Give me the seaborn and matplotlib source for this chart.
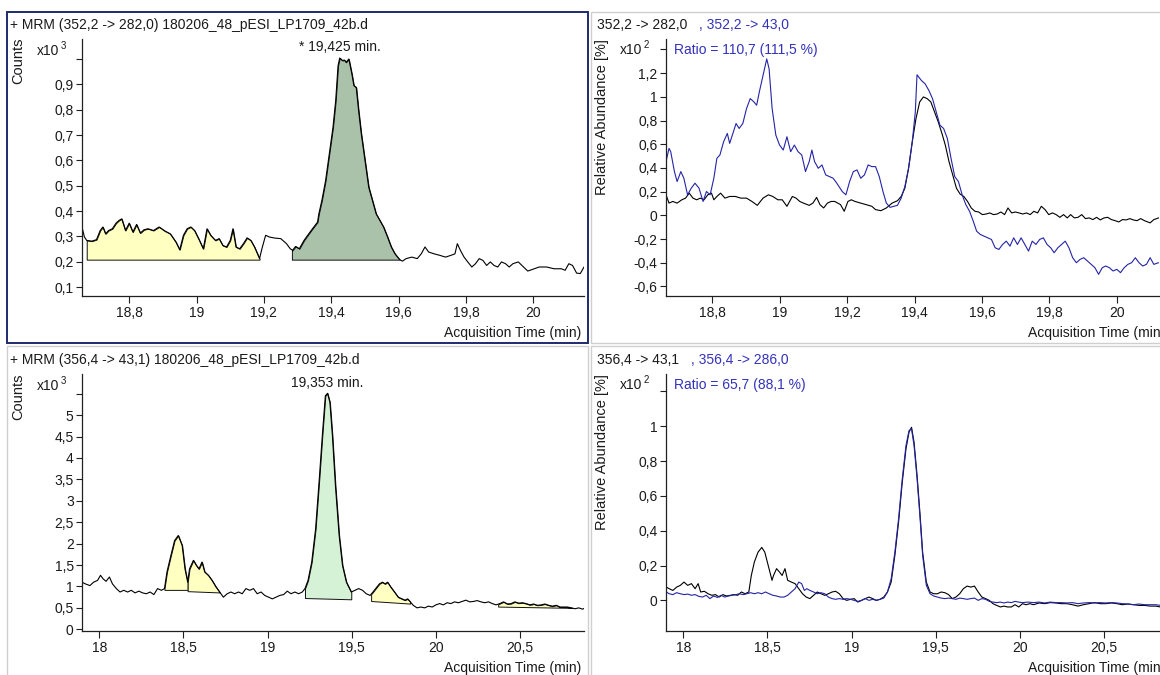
import numpy as np
import matplotlib
matplotlib.use("Agg")
import matplotlib.pyplot as plt
from matplotlib.patches import Rectangle
import seaborn as sns

# ---------------------------------------------------------------- data
# MRM 352,2 -> 282,0 (counts x10^3)
p1_time = [
    18.660, 18.667, 18.674, 18.689, 18.703, 18.714, 18.722, 18.730, 18.739, 18.750,
    18.761, 18.770, 18.778, 18.789, 18.800, 18.811, 18.822, 18.833, 18.844, 18.856,
    18.872, 18.889, 18.906, 18.922, 18.939, 18.950, 18.961, 18.972, 18.983, 18.994,
    19.006, 19.020, 19.031, 19.042, 19.056, 19.067, 19.078, 19.089, 19.100, 19.108,
    19.117, 19.128, 19.139, 19.150, 19.161, 19.172, 19.187, 19.194, 19.205, 19.217,
    19.233, 19.250, 19.267, 19.278, 19.285, 19.294, 19.305, 19.319, 19.333, 19.348,
    19.359, 19.363, 19.372, 19.383, 19.394, 19.405, 19.413, 19.420, 19.425, 19.433,
    19.439, 19.444, 19.452, 19.461, 19.467, 19.474, 19.481, 19.489, 19.500, 19.511,
    19.522, 19.533, 19.544, 19.555, 19.567, 19.578, 19.589, 19.603, 19.611, 19.622,
    19.639, 19.655, 19.667, 19.678, 19.689, 19.705, 19.722, 19.739, 19.755, 19.767,
    19.774, 19.783, 19.794, 19.805, 19.817, 19.828, 19.839, 19.850, 19.861, 19.872,
    19.883, 19.894, 19.905, 19.917, 19.928, 19.939, 19.955, 19.966, 19.983, 19.994,
    20.017, 20.039, 20.061, 20.083, 20.094, 20.105, 20.116, 20.128, 20.139, 20.150,
]
p1_counts = [
    0.337, 0.298, 0.284, 0.281, 0.287, 0.323, 0.337, 0.310, 0.323, 0.330,
    0.352, 0.363, 0.369, 0.323, 0.352, 0.317, 0.347, 0.313, 0.326, 0.330,
    0.323, 0.337, 0.321, 0.310, 0.277, 0.247, 0.304, 0.330, 0.337, 0.323,
    0.291, 0.251, 0.330, 0.304, 0.284, 0.291, 0.264, 0.258, 0.284, 0.330,
    0.258, 0.251, 0.271, 0.294, 0.284, 0.258, 0.212, 0.251, 0.304, 0.297,
    0.293, 0.291, 0.271, 0.251, 0.245, 0.260, 0.251, 0.284, 0.310, 0.337,
    0.356, 0.389, 0.442, 0.520, 0.626, 0.731, 0.836, 0.974, 1.004, 0.994,
    0.996, 0.987, 1.000, 0.941, 0.895, 0.888, 0.796, 0.704, 0.599, 0.494,
    0.442, 0.389, 0.363, 0.337, 0.297, 0.258, 0.231, 0.208, 0.202, 0.212,
    0.218, 0.212, 0.231, 0.258, 0.238, 0.231, 0.225, 0.218, 0.225, 0.231,
    0.271, 0.245, 0.218, 0.199, 0.179, 0.192, 0.212, 0.205, 0.185, 0.199,
    0.185, 0.179, 0.199, 0.192, 0.179, 0.192, 0.199, 0.185, 0.163, 0.168,
    0.179, 0.179, 0.172, 0.172, 0.166, 0.192, 0.185, 0.155, 0.153, 0.179,
]
# integrated regions: start, end, baseline level at start / end
p1_peak_start = [18.674, 19.283]
p1_peak_end = [19.187, 19.603]
p1_base_start = [0.208, 0.208]
p1_base_end = [0.208, 0.208]

# qualifier overlay 352,2 -> 282,0 / 352,2 -> 43,0 (relative abundance x10^2 %)
p2_quant_time = [
    18.662, 18.671, 18.682, 18.695, 18.709, 18.720, 18.731, 18.742, 18.753, 18.764,
    18.775, 18.786, 18.797, 18.804, 18.813, 18.824, 18.837, 18.851, 18.868, 18.884,
    18.901, 18.917, 18.933, 18.950, 18.966, 18.979, 18.994, 19.007, 19.021, 19.037,
    19.048, 19.059, 19.070, 19.087, 19.098, 19.109, 19.119, 19.130, 19.141, 19.152,
    19.163, 19.180, 19.191, 19.202, 19.212, 19.223, 19.240, 19.256, 19.273, 19.284,
    19.300, 19.316, 19.333, 19.349, 19.360, 19.371, 19.382, 19.393, 19.404, 19.415,
    19.426, 19.437, 19.448, 19.459, 19.470, 19.481, 19.491, 19.502, 19.513, 19.524,
    19.535, 19.546, 19.557, 19.568, 19.579, 19.590, 19.601, 19.612, 19.623, 19.634,
    19.645, 19.656, 19.667, 19.677, 19.688, 19.699, 19.710, 19.721, 19.732, 19.743,
    19.754, 19.765, 19.776, 19.787, 19.798, 19.809, 19.820, 19.831, 19.842, 19.853,
    19.863, 19.874, 19.885, 19.896, 19.907, 19.918, 19.929, 19.940, 19.951, 19.962,
    19.973, 19.984, 19.995, 20.006, 20.017, 20.028, 20.039, 20.049, 20.060, 20.071,
    20.082, 20.099, 20.110, 20.124,
]
p2_quant = [
    0.173, 0.103, 0.117, 0.103, 0.131, 0.145, 0.187, 0.145, 0.131, 0.145,
    0.131, 0.173, 0.187, 0.131, 0.159, 0.187, 0.145, 0.159, 0.159, 0.145,
    0.145, 0.117, 0.084, 0.145, 0.173, 0.159, 0.131, 0.131, 0.076, 0.159,
    0.145, 0.117, 0.103, 0.084, 0.103, 0.151, 0.090, 0.062, 0.103, 0.117,
    0.117, 0.090, 0.034, 0.117, 0.131, 0.117, 0.103, 0.090, 0.076, 0.048,
    0.039, 0.062, 0.103, 0.123, 0.159, 0.229, 0.397, 0.621, 0.817, 0.957,
    0.999, 0.985, 0.957, 0.873, 0.789, 0.691, 0.593, 0.453, 0.341, 0.229,
    0.179, 0.159, 0.117, 0.062, 0.034, 0.028, 0.006, 0.011, 0.020, 0.006,
    0.011, 0.028, 0.006, 0.062, 0.020, 0.028, 0.020, 0.011, 0.020, 0.006,
    0.034, 0.020, 0.076, 0.048, 0.006, 0.020, 0.006, -0.017, 0.006, -0.022,
    0.006, -0.022, -0.017, 0.006, -0.028, -0.022, -0.036, -0.017, -0.039, -0.022,
    -0.017, -0.036, -0.045, -0.056, -0.036, -0.039, -0.028, -0.039, -0.045, -0.028,
    -0.045, -0.064, -0.036, -0.022,
]
p2_qual_time = [
    18.662, 18.671, 18.676, 18.687, 18.695, 18.706, 18.715, 18.726, 18.737, 18.748,
    18.760, 18.772, 18.782, 18.793, 18.804, 18.813, 18.822, 18.833, 18.844, 18.851,
    18.859, 18.870, 18.879, 18.890, 18.901, 18.912, 18.923, 18.931, 18.939, 18.950,
    18.961, 18.968, 18.977, 18.988, 18.999, 19.010, 19.021, 19.032, 19.043, 19.054,
    19.065, 19.076, 19.087, 19.095, 19.103, 19.114, 19.125, 19.136, 19.147, 19.158,
    19.169, 19.185, 19.196, 19.207, 19.218, 19.229, 19.240, 19.251, 19.262, 19.273,
    19.284, 19.295, 19.306, 19.316, 19.327, 19.338, 19.349, 19.360, 19.371, 19.382,
    19.393, 19.402, 19.407, 19.420, 19.431, 19.442, 19.453, 19.464, 19.475, 19.486,
    19.497, 19.508, 19.519, 19.530, 19.541, 19.552, 19.563, 19.574, 19.584, 19.595,
    19.606, 19.617, 19.628, 19.639, 19.650, 19.661, 19.672, 19.683, 19.694, 19.705,
    19.716, 19.727, 19.738, 19.749, 19.760, 19.771, 19.782, 19.793, 19.804, 19.814,
    19.825, 19.836, 19.847, 19.858, 19.869, 19.880, 19.891, 19.902, 19.913, 19.924,
    19.935, 19.946, 19.957, 19.967, 19.978, 19.989, 20.000, 20.011, 20.022, 20.033,
    20.044, 20.055, 20.066, 20.077, 20.088, 20.099, 20.110, 20.124,
]
p2_qual = [
    0.453, 0.565, 0.537, 0.369, 0.285, 0.369, 0.313, 0.173, 0.229, 0.271,
    0.229, 0.117, 0.201, 0.173, 0.313, 0.481, 0.509, 0.621, 0.691, 0.607,
    0.677, 0.775, 0.733, 0.775, 0.901, 0.985, 0.957, 0.929, 1.041, 1.180,
    1.320, 1.236, 0.901, 0.677, 0.593, 0.551, 0.663, 0.537, 0.593, 0.537,
    0.509, 0.369, 0.453, 0.551, 0.453, 0.397, 0.425, 0.341, 0.327, 0.313,
    0.271, 0.201, 0.173, 0.285, 0.369, 0.383, 0.313, 0.341, 0.425, 0.411,
    0.411, 0.327, 0.201, 0.103, 0.067, 0.076, 0.084, 0.145, 0.243, 0.397,
    0.621, 0.873, 1.186, 1.138, 1.110, 1.055, 0.985, 0.873, 0.761, 0.733,
    0.649, 0.481, 0.327, 0.285, 0.173, 0.090, 0.034, -0.050, -0.134, -0.162,
    -0.176, -0.190, -0.204, -0.274, -0.288, -0.246, -0.218, -0.260, -0.190, -0.246,
    -0.190, -0.246, -0.302, -0.218, -0.246, -0.204, -0.190, -0.246, -0.274, -0.316,
    -0.274, -0.246, -0.218, -0.274, -0.358, -0.400, -0.372, -0.358, -0.386, -0.414,
    -0.442, -0.498, -0.442, -0.428, -0.442, -0.470, -0.456, -0.484, -0.442, -0.414,
    -0.400, -0.358, -0.400, -0.428, -0.414, -0.358, -0.414, -0.400,
]

# MRM 356,4 -> 43,1 (counts x10^3)
p3_time = [
    17.897, 17.917, 17.944, 17.966, 17.989, 18.007, 18.022, 18.040, 18.060, 18.078,
    18.101, 18.123, 18.145, 18.168, 18.190, 18.212, 18.235, 18.257, 18.279, 18.302,
    18.324, 18.346, 18.369, 18.387, 18.402, 18.425, 18.447, 18.469, 18.492, 18.509,
    18.525, 18.536, 18.559, 18.577, 18.592, 18.610, 18.626, 18.648, 18.670, 18.693,
    18.715, 18.737, 18.760, 18.782, 18.804, 18.827, 18.849, 18.871, 18.894, 18.916,
    18.938, 18.961, 18.983, 19.005, 19.028, 19.050, 19.072, 19.095, 19.117, 19.139,
    19.162, 19.184, 19.206, 19.222, 19.240, 19.262, 19.285, 19.307, 19.325, 19.343,
    19.356, 19.370, 19.385, 19.403, 19.425, 19.445, 19.468, 19.497, 19.519, 19.541,
    19.564, 19.586, 19.609, 19.626, 19.642, 19.664, 19.682, 19.698, 19.713, 19.731,
    19.754, 19.776, 19.798, 19.816, 19.832, 19.848, 19.865, 19.888, 19.910, 19.933,
    19.955, 19.978, 20.000, 20.022, 20.044, 20.067, 20.089, 20.111, 20.134, 20.156,
    20.178, 20.201, 20.223, 20.245, 20.268, 20.290, 20.313, 20.335, 20.357, 20.380,
    20.402, 20.425, 20.447, 20.469, 20.492, 20.514, 20.536, 20.559, 20.581, 20.603,
    20.626, 20.648, 20.670, 20.692, 20.715, 20.737, 20.760, 20.782, 20.804, 20.827,
    20.849, 20.871, 20.889,
]
p3_counts = [
    1.10, 1.06, 1.02, 1.10, 1.14, 1.26, 1.18, 1.12, 1.22, 1.06,
    0.95, 0.87, 0.91, 0.87, 0.91, 0.85, 0.89, 0.85, 0.83, 0.87,
    0.81, 0.95, 0.91, 0.95, 1.34, 1.72, 2.07, 2.19, 1.96, 1.41,
    1.10, 1.41, 1.61, 1.49, 1.41, 1.57, 1.34, 1.26, 1.14, 0.99,
    0.87, 0.75, 0.83, 0.87, 0.83, 0.87, 0.83, 0.95, 0.91, 0.95,
    0.83, 0.87, 0.79, 0.75, 0.71, 0.75, 0.79, 0.81, 0.89, 0.83,
    0.87, 0.83, 0.87, 0.95, 1.14, 1.57, 2.34, 3.51, 4.52, 5.45,
    5.51, 5.30, 4.52, 3.35, 2.19, 1.49, 1.10, 0.87, 0.91, 0.95,
    0.91, 0.83, 0.79, 0.87, 0.95, 1.06, 1.10, 1.06, 1.10, 0.99,
    0.87, 0.75, 0.71, 0.68, 0.71, 0.64, 0.56, 0.50, 0.52, 0.50,
    0.54, 0.52, 0.57, 0.60, 0.57, 0.62, 0.60, 0.64, 0.62, 0.65,
    0.68, 0.64, 0.65, 0.67, 0.64, 0.62, 0.64, 0.60, 0.57, 0.60,
    0.64, 0.59, 0.60, 0.64, 0.61, 0.62, 0.60, 0.57, 0.59, 0.56,
    0.57, 0.59, 0.56, 0.54, 0.56, 0.52, 0.52, 0.52, 0.50, 0.48,
    0.50, 0.47, 0.50,
]
p3_peak_start = [18.387, 18.525, 19.222, 19.615, 20.370]
p3_peak_end = [18.525, 18.715, 19.497, 19.846, 20.810]
p3_base_start = [0.92, 0.89, 0.73, 0.66, 0.53]
p3_base_end = [0.92, 0.86, 0.70, 0.60, 0.50]

# qualifier overlay 356,4 -> 43,1 / 356,4 -> 286,0 (relative abundance x10^2 %)
p4_quant_time = [
    17.899, 17.916, 17.938, 17.960, 17.982, 18.004, 18.026, 18.048, 18.070, 18.088,
    18.103, 18.125, 18.147, 18.169, 18.191, 18.213, 18.235, 18.257, 18.279, 18.301,
    18.323, 18.345, 18.367, 18.389, 18.404, 18.422, 18.444, 18.466, 18.484, 18.499,
    18.514, 18.527, 18.536, 18.554, 18.571, 18.587, 18.604, 18.620, 18.642, 18.664,
    18.686, 18.708, 18.730, 18.752, 18.774, 18.796, 18.818, 18.840, 18.862, 18.884,
    18.905, 18.927, 18.949, 18.971, 18.993, 19.015, 19.037, 19.059, 19.081, 19.103,
    19.125, 19.147, 19.169, 19.191, 19.213, 19.235, 19.257, 19.279, 19.301, 19.323,
    19.341, 19.356, 19.371, 19.389, 19.407, 19.422, 19.444, 19.466, 19.488, 19.510,
    19.532, 19.554, 19.576, 19.598, 19.620, 19.642, 19.664, 19.686, 19.708, 19.730,
    19.752, 19.774, 19.796, 19.818, 19.840, 19.862, 19.884, 19.905, 19.927, 19.949,
    19.971, 19.993, 20.015, 20.037, 20.059, 20.081, 20.114, 20.147, 20.180, 20.213,
    20.246, 20.279, 20.312, 20.345, 20.378, 20.411, 20.444, 20.477, 20.510, 20.543,
    20.576, 20.609, 20.642, 20.675, 20.708, 20.741, 20.774, 20.807, 20.835,
]
p4_quant = [
    0.076, 0.067, 0.057, 0.076, 0.086, 0.105, 0.086, 0.096, 0.067, 0.096,
    0.048, 0.052, 0.038, 0.029, 0.033, 0.019, 0.033, 0.025, 0.029, 0.033,
    0.029, 0.048, 0.038, 0.048, 0.143, 0.220, 0.277, 0.304, 0.277, 0.220,
    0.163, 0.115, 0.143, 0.182, 0.163, 0.143, 0.182, 0.115, 0.105, 0.096,
    0.067, 0.038, 0.019, 0.010, 0.029, 0.048, 0.038, 0.029, 0.038, 0.048,
    0.052, 0.038, 0.010, 0.000, 0.006, 0.010, -0.010, 0.000, 0.010, 0.019,
    0.010, 0.000, 0.006, 0.019, 0.048, 0.105, 0.258, 0.449, 0.679, 0.870,
    0.966, 0.994, 0.908, 0.717, 0.488, 0.277, 0.105, 0.048, 0.038, 0.038,
    0.048, 0.044, 0.033, 0.010, 0.019, 0.038, 0.067, 0.082, 0.076, 0.082,
    0.048, 0.019, 0.010, 0.000, -0.019, -0.029, -0.038, -0.033, -0.038, -0.038,
    -0.025, -0.038, -0.019, -0.025, -0.019, -0.025, -0.015, -0.019, -0.013, -0.015,
    -0.019, -0.019, -0.025, -0.033, -0.025, -0.019, -0.013, -0.019, -0.019, -0.015,
    -0.019, -0.025, -0.021, -0.025, -0.029, -0.029, -0.033, -0.033, -0.038,
]
p4_qual_time = [
    17.899, 17.916, 17.938, 17.960, 17.982, 18.004, 18.026, 18.048, 18.070, 18.092,
    18.114, 18.136, 18.158, 18.180, 18.202, 18.224, 18.246, 18.268, 18.290, 18.312,
    18.334, 18.356, 18.378, 18.400, 18.422, 18.444, 18.466, 18.488, 18.510, 18.532,
    18.554, 18.576, 18.598, 18.620, 18.642, 18.664, 18.686, 18.703, 18.719, 18.734,
    18.752, 18.774, 18.796, 18.818, 18.840, 18.862, 18.884, 18.905, 18.927, 18.949,
    18.971, 18.993, 19.015, 19.037, 19.059, 19.081, 19.103, 19.125, 19.147, 19.169,
    19.191, 19.213, 19.235, 19.257, 19.279, 19.301, 19.323, 19.341, 19.356, 19.371,
    19.389, 19.407, 19.422, 19.444, 19.466, 19.488, 19.510, 19.532, 19.554, 19.576,
    19.598, 19.620, 19.642, 19.664, 19.686, 19.708, 19.730, 19.752, 19.774, 19.796,
    19.818, 19.840, 19.862, 19.884, 19.905, 19.927, 19.949, 19.971, 19.993, 20.015,
    20.048, 20.081, 20.114, 20.147, 20.180, 20.213, 20.246, 20.279, 20.312, 20.345,
    20.378, 20.411, 20.444, 20.477, 20.510, 20.543, 20.576, 20.609, 20.642, 20.675,
    20.708, 20.741, 20.774, 20.807, 20.835,
]
p4_qual = [
    0.048, 0.038, 0.033, 0.044, 0.038, 0.033, 0.036, 0.029, 0.033, 0.023,
    0.019, 0.029, 0.010, 0.025, 0.017, 0.029, 0.019, 0.025, 0.029, 0.033,
    0.038, 0.033, 0.038, 0.044, 0.038, 0.044, 0.038, 0.048, 0.038, 0.029,
    0.025, 0.019, 0.019, 0.029, 0.048, 0.067, 0.105, 0.096, 0.057, 0.067,
    0.057, 0.048, 0.038, 0.044, 0.038, 0.019, 0.010, 0.006, 0.010, 0.006,
    0.010, 0.006, 0.000, -0.006, 0.000, 0.010, 0.000, 0.006, 0.000, 0.006,
    0.013, 0.048, 0.124, 0.277, 0.468, 0.698, 0.889, 0.975, 0.985, 0.889,
    0.698, 0.468, 0.258, 0.086, 0.038, 0.025, 0.019, 0.013, 0.010, 0.013,
    0.010, 0.006, 0.013, 0.010, 0.006, 0.010, 0.013, 0.000, 0.010, 0.006,
    -0.006, -0.010, -0.013, -0.010, -0.015, -0.010, -0.013, -0.006, -0.010, -0.013,
    -0.010, -0.013, -0.010, -0.015, -0.010, -0.013, -0.013, -0.015, -0.013, -0.019,
    -0.015, -0.013, -0.015, -0.013, -0.015, -0.013, -0.015, -0.019, -0.021, -0.025,
    -0.021, -0.025, -0.025, -0.025, -0.029,
]

# ticks and labels
top_xticks = [18.8, 19.0, 19.2, 19.4, 19.6, 19.8, 20.0]
top_xticklabels = ["18,8", "19", "19,2", "19,4", "19,6", "19,8", "20"]
bottom_xticks = [18.0, 18.5, 19.0, 19.5, 20.0, 20.5]
bottom_xticklabels = ["18", "18,5", "19", "19,5", "20", "20,5"]
p1_yticks = [0.1, 0.2, 0.3, 0.4, 0.5, 0.6, 0.7, 0.8, 0.9, 1.0]
p1_yticklabels = ["0,1", "0,2", "0,3", "0,4", "0,5", "0,6", "0,7", "0,8", "0,9", ""]
p2_yticks = [-0.6, -0.4, -0.2, 0.0, 0.2, 0.4, 0.6, 0.8, 1.0, 1.2, 1.4]
p2_yticklabels = ["-0,6", "-0,4", "-0,2", "0", "0,2", "0,4", "0,6", "0,8", "1", "1,2", ""]
p3_yticks = [0.0, 0.5, 1.0, 1.5, 2.0, 2.5, 3.0, 3.5, 4.0, 4.5, 5.0, 5.5]
p3_yticklabels = ["0", "0,5", "1", "1,5", "2", "2,5", "3", "3,5", "4", "4,5", "5", ""]
p4_yticks = [0.0, 0.2, 0.4, 0.6, 0.8, 1.0, 1.2]
p4_yticklabels = ["0", "0,2", "0,4", "0,6", "0,8", "1", ""]

p1_title = "+ MRM (352,2 -> 282,0) 180206_48_pESI_LP1709_42b.d"
p3_title = "+ MRM (356,4 -> 43,1) 180206_48_pESI_LP1709_42b.d"
p2_title_quant, p2_title_qual = "352,2 -> 282,0", ", 352,2 -> 43,0"
p4_title_quant, p4_title_qual = "356,4 -> 43,1", ", 356,4 -> 286,0"
p2_ratio = "Ratio = 110,7 (111,5 %)"
p4_ratio = "Ratio = 65,7 (88,1 %)"
p1_rt, p1_rt_label = 19.425, "* 19,425 min."
p3_rt, p3_rt_label = 19.353, "19,353 min."

# ---------------------------------------------------------------- style
sns.set_theme(style="ticks")
plt.rcParams["font.family"] = ["Liberation Sans", "DejaVu Sans"]
plt.rcParams["font.size"] = 10

W, H = 1160, 675
TXT = "#1a1a1a"
BLUE_LINE = "#2424A8"
BLUE_TXT = "#3232BC"
YELLOW = "#FFFFC2"
GREEN_DARK = "#A9C2A9"
GREEN_LIGHT = "#D6F2D6"
FS = 10

fig = plt.figure(figsize=(W / 100, H / 100), dpi=100, facecolor="white")
renderer = fig.canvas.get_renderer()


def fx(x):
    return x / W


def fy(y):
    return 1 - y / H


def rect(left, top, right, bottom):
    return [fx(left), fy(bottom), (right - left) / W, (bottom - top) / H]


def style_axes(ax, xlim, ylim, xticks, xlabels, yticks, ylabels):
    ax.set_xlim(*xlim)
    ax.set_ylim(*ylim)
    ax.set_xticks(xticks)
    ax.set_xticklabels(xlabels)
    ax.set_yticks(yticks)
    ax.set_yticklabels(ylabels)
    ax.set_xlabel("")
    ax.set_ylabel("")
    for side in ("top", "right"):
        ax.spines[side].set_visible(False)
    for side in ("left", "bottom"):
        ax.spines[side].set_color("#202020")
        ax.spines[side].set_linewidth(0.9)
    ax.tick_params(axis="x", direction="out", length=5, width=0.8, pad=2.5,
                   labelsize=FS, colors="#202020", labelcolor=TXT)
    ax.tick_params(axis="y", direction="out", length=4.5, width=0.8, pad=1.5,
                   labelsize=FS, colors="#202020", labelcolor=TXT)
    ax.set_facecolor("white")
    ax.text(0.995, -0.143, "Acquisition Time (min)", transform=ax.transAxes,
            ha="right", va="center", fontsize=FS, color=TXT, clip_on=False)


def trace(ax, t, y, color):
    sns.lineplot(x=t, y=y, ax=ax, color=color, linewidth=0.8,
                 estimator=None, sort=False, legend=False)


def integrate(ax, t, y, t0, t1, b0, b1, color):
    t = np.asarray(t)
    y = np.asarray(y)
    inside = (t > t0) & (t < t1)
    xs = np.concatenate([[t0], t[inside], [t1]])
    ys = np.concatenate([[np.interp(t0, t, y)], y[inside], [np.interp(t1, t, y)]])
    base = np.interp(xs, [t0, t1], [b0, b1])
    ax.fill_between(xs, base, ys, facecolor=color, edgecolor="#101010",
                    linewidth=0.7, zorder=1)


def multiplier(x_right, y_mid, power):
    fig.text(fx(x_right), fy(y_mid), "x10", ha="right", va="center",
             fontsize=FS, color=TXT)
    fig.text(fx(x_right + 2), fy(y_mid - 5), power, ha="left", va="center",
             fontsize=7, color=TXT)


def overlay_title(x, y, quant, qual, gap=12):
    t = fig.text(fx(x), fy(y), quant, ha="left", va="center", fontsize=FS, color=TXT)
    x_end = t.get_window_extent(renderer).x1
    fig.text((x_end + gap) / W, fy(y), qual, ha="left", va="center",
             fontsize=FS, color=BLUE_TXT)


# panel frames
fig.add_artist(Rectangle((fx(591), fy(343)), (1170 - 591) / W, (343 - 12) / H,
                         transform=fig.transFigure, fill=False,
                         edgecolor="#CFCFCF", linewidth=1.0))
fig.add_artist(Rectangle((fx(7), fy(680)), (588 - 7) / W, (680 - 346) / H,
                         transform=fig.transFigure, fill=False,
                         edgecolor="#CFCFCF", linewidth=1.0))
fig.add_artist(Rectangle((fx(591), fy(680)), (1170 - 591) / W, (680 - 346) / H,
                         transform=fig.transFigure, fill=False,
                         edgecolor="#CFCFCF", linewidth=1.0))
fig.add_artist(Rectangle((fx(7), fy(343)), (588 - 7) / W, (343 - 12) / H,
                         transform=fig.transFigure, fill=False,
                         edgecolor="#1F2B6E", linewidth=1.4))

# ---------------------------------------------------------------- panel 1
ax1 = fig.add_axes(rect(82, 39, 584, 296))
trace(ax1, p1_time, p1_counts, "black")
for t0, t1, b0, b1, c in zip(p1_peak_start, p1_peak_end, p1_base_start,
                             p1_base_end, [YELLOW, GREEN_DARK]):
    integrate(ax1, p1_time, p1_counts, t0, t1, b0, b1, c)
style_axes(ax1, (18.66, 20.15), (0.0645, 1.079), top_xticks, top_xticklabels,
           p1_yticks, p1_yticklabels)
ax1.text(p1_rt, 1.047, p1_rt_label, ha="center", va="center", fontsize=FS,
         color=TXT, clip_on=False)
fig.text(fx(10), fy(25), p1_title, ha="left", va="center", fontsize=FS, color=TXT)
fig.text(fx(18), fy(38), "Counts", rotation=90, ha="center", va="top",
         fontsize=FS + 0.5, color=TXT)
multiplier(59, 51, "3")

# ---------------------------------------------------------------- panel 2
ax2 = fig.add_axes(rect(666, 39, 1168, 296))
trace(ax2, p2_quant_time, p2_quant, "black")
trace(ax2, p2_qual_time, p2_qual, BLUE_LINE)
style_axes(ax2, (18.662, 20.152), (-0.681, 1.488), top_xticks, top_xticklabels,
           p2_yticks, p2_yticklabels)
overlay_title(597, 25, p2_title_quant, p2_title_qual)
fig.text(fx(674), fy(50), p2_ratio, ha="left", va="center", fontsize=FS, color=BLUE_TXT)
fig.text(fx(602), fy(39), "Relative Abundance [%]", rotation=90, ha="center",
         va="top", fontsize=FS + 0.5, color=TXT)
multiplier(642, 50, "2")

# ---------------------------------------------------------------- panel 3
ax3 = fig.add_axes(rect(82, 374, 584, 631))
trace(ax3, p3_time, p3_counts, "black")
for t0, t1, b0, b1, c in zip(p3_peak_start, p3_peak_end, p3_base_start, p3_base_end,
                             [YELLOW, YELLOW, GREEN_LIGHT, YELLOW, YELLOW]):
    integrate(ax3, p3_time, p3_counts, t0, t1, b0, b1, c)
style_axes(ax3, (17.897, 20.88), (-0.04, 5.96), bottom_xticks, bottom_xticklabels,
           p3_yticks, p3_yticklabels)
ax3.text(p3_rt, 5.76, p3_rt_label, ha="center", va="center", fontsize=FS,
         color=TXT, clip_on=False)
fig.text(fx(10), fy(360), p3_title, ha="left", va="center", fontsize=FS, color=TXT)
fig.text(fx(18), fy(373), "Counts", rotation=90, ha="center", va="top",
         fontsize=FS + 0.5, color=TXT)
multiplier(59, 386, "3")

# ---------------------------------------------------------------- panel 4
ax4 = fig.add_axes(rect(666, 374, 1168, 631))
trace(ax4, p4_quant_time, p4_quant, "black")
trace(ax4, p4_qual_time, p4_qual, BLUE_LINE)
style_axes(ax4, (17.897, 20.88), (-0.176, 1.30), bottom_xticks, bottom_xticklabels,
           p4_yticks, p4_yticklabels)
overlay_title(597, 360, p4_title_quant, p4_title_qual)
fig.text(fx(674), fy(385), p4_ratio, ha="left", va="center", fontsize=FS, color=BLUE_TXT)
fig.text(fx(602), fy(374), "Relative Abundance [%]", rotation=90, ha="center",
         va="top", fontsize=FS + 0.5, color=TXT)
multiplier(642, 385, "2")

fig.savefig("out.png", dpi=100, facecolor="white")
